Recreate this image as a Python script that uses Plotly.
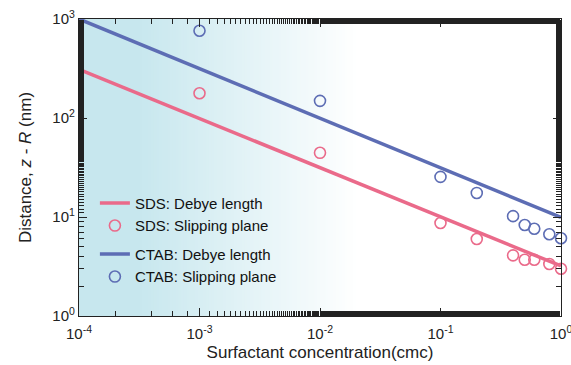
import plotly.graph_objects as go

# Data
conc_line = [1e-4, 1.0]
sds_debye = [310, 3.2]
ctab_debye = [1000, 9.9]

conc_pts = [1e-3, 1e-2, 0.1, 0.2, 0.4, 0.5, 0.6, 0.8, 1.0]
sds_slip = [178, 44.5, 8.7, 6.0, 4.1, 3.7, 3.7, 3.35, 3.0]
ctab_slip = [760, 149, 25.4, 17.5, 10.2, 8.3, 7.6, 6.7, 6.1]

x_tickvals = [1e-4, 1e-3, 1e-2, 1e-1, 1]
x_ticktext = ["10<sup>-4</sup>", "10<sup>-3</sup>", "10<sup>-2</sup>", "10<sup>-1</sup>", "10<sup>0</sup>"]
y_tickvals = [1, 10, 100, 1000]
y_ticktext = ["10<sup>0</sup>", "10<sup>1</sup>", "10<sup>2</sup>", "10<sup>3</sup>"]

PINK = "#ea6a8a"
BLUE = "#5d6db4"

fig = go.Figure()
fig.add_trace(go.Scatter(x=conc_line, y=sds_debye, mode="lines", name="SDS: Debye length",
                         line=dict(color=PINK, width=3.5), legendgroup="SDS"))
fig.add_trace(go.Scatter(x=conc_pts, y=sds_slip, mode="markers", name="SDS: Slipping plane",
                         marker=dict(symbol="circle-open", size=11, color=PINK, line=dict(width=1.6)),
                         legendgroup="SDS", cliponaxis=False))
fig.add_trace(go.Scatter(x=conc_line, y=ctab_debye, mode="lines", name="CTAB: Debye length",
                         line=dict(color=BLUE, width=3.5), legendgroup="CTAB"))
fig.add_trace(go.Scatter(x=conc_pts, y=ctab_slip, mode="markers", name="CTAB: Slipping plane",
                         marker=dict(symbol="circle-open", size=11, color=BLUE, line=dict(width=1.6)),
                         legendgroup="CTAB", cliponaxis=False))

# gradient background
shapes = []
c0 = (199, 231, 238)
c1 = (255, 255, 255)
n = 80
start, end = 0.12, 0.58
for i in range(n):
    a0 = i / n
    a1 = (i + 1) / n
    p0 = 0.0 if i == 0 else start + (end - start) * a0
    p1 = start + (end - start) * a1
    t = (a0 + a1) / 2
    col = tuple(int(round(c0[k] + (c1[k] - c0[k]) * t)) for k in range(3))
    shapes.append(dict(type="rect", xref="paper", yref="paper", x0=p0, x1=p1 + 0.002, y0=0, y1=1,
                       fillcolor="rgb(%d,%d,%d)" % col, line=dict(width=0), layer="below"))

font = "Liberation Sans, Arial, sans-serif"
axis_common = dict(type="log", showgrid=False, zeroline=False, showline=True, linecolor="#222",
                   linewidth=1.3, mirror="allticks", ticks="inside", ticklen=8, tickwidth=1.2,
                   tickcolor="#222", automargin=False,
                   tickfont=dict(family=font, size=15, color="#222"),
                   minor=dict(ticks="inside", ticklen=4.5, tickwidth=1, tickcolor="#222", showgrid=False))

fig.update_layout(
    width=571, height=365,
    margin=dict(l=79, r=10, t=19, b=49),
    paper_bgcolor="white", plot_bgcolor="white",
    shapes=shapes,
    font=dict(family=font, size=15, color="#222"),
    showlegend=True,
    legend=dict(x=0.033, y=0.435, xanchor="left", yanchor="top", bgcolor="rgba(0,0,0,0)",
                font=dict(family=font, size=15, color="#111"), tracegroupgap=6, itemwidth=30),
    xaxis=dict(axis_common, range=[-4, 0], tickvals=x_tickvals, ticktext=x_ticktext,
               ticklabeloverflow="allow", ticklabelstandoff=4,
               title=dict(text="Surfactant concentration(cmc)", font=dict(family=font, size=17), standoff=4)),
    yaxis=dict(axis_common, range=[0, 3], tickvals=y_tickvals, ticktext=y_ticktext,
               title=dict(text="Distance, <i>z</i> - <i>R</i> (nm)", font=dict(family=font, size=17), standoff=16)),
)

fig.write_html("out.html")
